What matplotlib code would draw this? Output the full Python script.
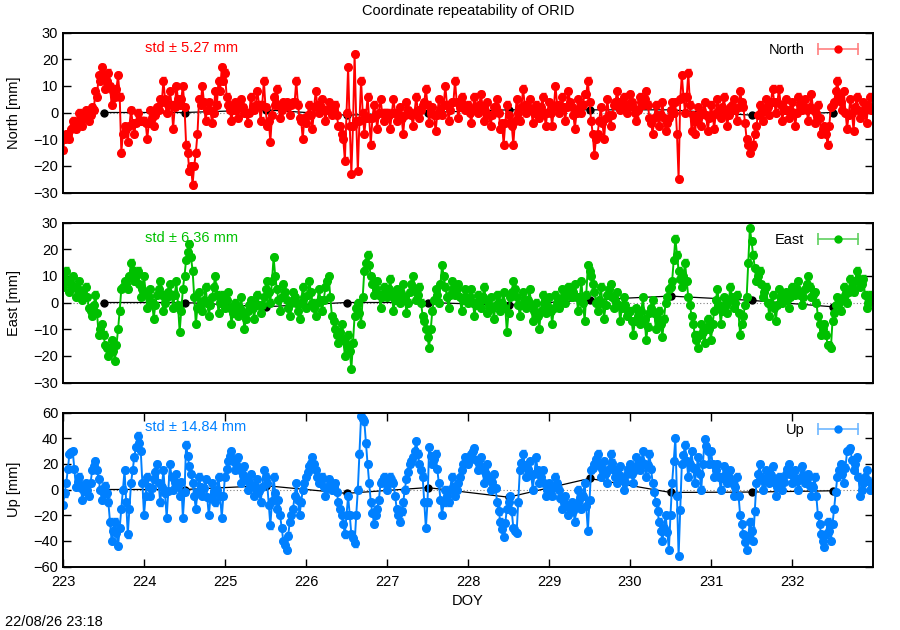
import numpy as np
import matplotlib
matplotlib.use("Agg")
import matplotlib.pyplot as plt
from matplotlib.lines import Line2D
from matplotlib.legend_handler import HandlerLine2D

plt.rcParams['font.family'] = ['Liberation Sans', 'DejaVu Sans']
plt.rcParams['font.size'] = 10.5

# band edge samples, 25 per day, DOY 223.00 .. 232.96
t_start = 223.0
t_step = 0.04

north = [
    -14, -8, -10, -3, -6, 0, -5, 1, -3, 2, 8, 14, 17, 9, 15, 3, 6, 14, -15, -5, -11, 1, -8, 0, -3,
    -3, -10, 1, -5, 2, 5, 12, 0, 8, -6, 10, 3, 10, -12, -22, -27, -15, 5, 10, -3, 4, -4, 8, 12, 17,
    15, 3, -3, 4, -2, 5, 0, -4, 6, 1, 8, -3, 12, -5, -11, 6, 9, -2, 4, 4, -1, 4, 12, -2, -10,
    -4, 3, -6, 8, 0, 5, -3, 4, -1, 3, -5, -8, -18, 17, -23, 22, -22, 12, -8, 6, -12, 3, -6, 5, -3,
    0, -6, 5, -3, 2, -8, 4, 0, -5, 6, -2, 3, 9, -4, 2, -7, 5, -1, 10, -3, 4, 12, -2, 6, 1,
    3, -4, 6, 0, 7, -3, 4, -5, 2, 5, -6, -12, 3, -4, -12, 5, -3, 9, 0, 5, -4, 3, -2, 6, -5,
    4, -5, 10, 0, 6, -3, 8, 2, -6, 5, 0, 7, 12, -3, -16, -8, 2, -10, 5, -5, 3, 8, 1, 6, 0,
    7, 2, -3, 6, 3, 8, -2, -8, 3, -5, 4, -7, -2, 4, 4, -25, 14, 0, 15, -7, -8, 2, -5, 4, -7,
    3, -6, 5, -2, 6, -5, 2, 5, -3, 8, 2, -10, -15, -12, -5, 3, -3, 5, -1, 9, 0, 9, -3, 5, -2,
    4, -5, 6, 1, 5, -3, 7, -4, 3, -8, -5, -12, 2, 4, 12, 4, 8, -6, 5, -7, 6, -2, 4, -4, 6,
]
# band centre samples, halfway between the edge samples
north_mid = [
    -10, -8, -6, -4, -3, -2, -2, -1, -1, 1, 6, 12, 14, 12, 10, 8, 9, 6, -8, -6, -5, -4, -4, -3, -3,
    -4, -4, -2, -1, 1, 4, 5, 3, 3, 2, 5, 5, 2, -15, -20, -20, -8, 3, 4, 1, 1, 0, 3, 8, 12,
    6, 1, 1, 1, 2, 2, 0, 0, 2, 3, 3, 3, 2, -3, -1, 3, 3, 1, 2, 3, 3, 4, 3, -3, -2,
    -1, -1, 2, 3, 2, 1, 1, 1, 1, -1, -5, -10, 0, -5, -5, -3, -3, 0, -2, -2, -2, -1, 0, 0, 0,
    -1, 0, 0, 0, -2, -1, 1, -1, 0, 1, 1, 4, 3, 0, -1, -1, 1, 3, 3, 1, 4, 4, 2, 3, 2,
    0, 1, 2, 3, 2, 0, -1, -1, 2, 0, -4, -4, -1, -5, -3, 0, 2, 3, 2, 1, 0, 0, 2, 0, 0,
    0, 2, 3, 2, 2, 2, 4, -1, 0, 2, 3, 7, 4, -8, -10, -3, -4, -2, -1, -1, 4, 4, 3, 3, 3,
    4, 0, 1, 4, 5, 3, -4, -2, -1, -1, -2, -4, 1, 0, -8, 5, 6, 6, 3, -1, -3, -1, 0, -1, -2,
    -1, 0, 1, 2, 0, -1, 3, 1, 2, 4, -4, -12, -13, -8, -1, 0, 1, 2, 4, 4, 4, 3, 1, 1, 1,
    0, 0, 3, 3, 1, 2, 1, 0, -2, -6, -8, -5, 3, 8, 6, 1, 0, -1, 0, 2, 1, 0, 1, 3, 1,
]

east = [
    6, 12, 4, 10, 2, 8, 1, 6, -2, -5, 3, -12, -8, -16, -20, -14, -22, -10, 5, 8, 5, 15, 8, 12, 2,
    10, -2, 5, -6, 3, 8, -3, 2, 7, -2, 8, -11, 5, 16, 22, 12, -8, 4, -3, 6, -5, 2, 10, -4, 3,
    -2, 4, -8, 0, -5, 2, -10, -3, 1, -6, 3, -4, 2, 8, 0, 17, 5, -3, 7, 1, -5, 4, 0, -6, 6,
    -2, 8, 0, -5, 5, -3, 6, 10, -5, -10, -15, -8, -20, -12, -25, -5, 0, -8, 12, 18, 10, 3, 8, -2, 6,
    2, 9, -3, 5, 0, 7, -4, 4, 10, 1, 6, -5, -10, -17, -3, 5, 0, 14, 6, -2, 8, 3, 7, -3, 5,
    0, 5, -5, 3, -2, 6, -4, 2, -6, 3, -3, 4, -11, 2, 8, 2, -5, 4, -2, 5, -7, 0, -10, 3, -4,
    2, -8, 3, -2, 5, 0, 6, 2, 7, -3, 8, -7, 14, 10, 4, -3, 6, -6, 3, 7, -2, 4, -7, 2, -5,
    -3, -12, -2, -8, 2, -14, -4, 1, -10, -3, -13, 0, 5, 8, 24, 12, 6, 15, 2, -5, -12, -17, -8, -15, -6,
    -14, -3, 5, -8, 2, -4, 6, -2, 3, -12, -5, 2, 28, 18, 8, 12, 2, 6, -5, 3, -7, 5, 0, 4, -2,
    6, 3, 8, -1, 5, 10, 2, 4, -5, -12, -8, -16, -17, -4, 2, -3, 6, 0, 9, 4, 12, 6, 9, -2, 3,
]
east_mid = [
    9, 8, 7, 6, 5, 4, 3, 2, -3, -1, -4, -10, -12, -17, -17, -18, -16, -3, 6, 7, 10, 12, 10, 7, 5,
    4, 2, 0, -1, 5, 3, 0, 4, 3, 3, -1, -3, 10, 19, 17, 2, -2, 0, 1, 0, -1, 6, 3, 0, 1,
    1, -2, -4, -2, -2, -4, -6, -1, -2, -1, -1, -1, 5, 4, 8, 10, 1, 2, 4, -2, 0, 2, -3, 0, 2,
    3, 4, -2, 0, 1, 1, 8, 2, -7, -12, -11, -14, -16, -18, -15, -2, -4, 2, 15, 14, 7, 5, 3, 2, 4,
    5, 3, 1, 2, 3, 2, 0, 7, 5, 3, 0, -7, -13, -10, 1, 3, 7, 10, 2, 3, 5, 5, 2, 1, 2,
    2, 0, -1, 0, 2, 1, -1, -2, -1, 0, 0, -2, -4, 4, 5, -1, -1, 1, 1, -1, -3, -5, -3, 0, -1,
    -3, -2, 0, 1, 2, 3, 4, 4, 2, 2, 0, 3, 12, 7, 0, 1, 0, -1, 5, 2, 1, -1, -2, -1, -4,
    -7, -7, -5, -3, -6, -9, -2, -4, -6, -8, -6, 2, 6, 16, 18, 9, 10, 8, -1, -8, -14, -12, -11, -10, -10,
    -8, 1, -1, -3, -1, 1, 2, 0, -4, -8, -1, 15, 23, 13, 10, 7, 4, 0, -1, -2, -1, 2, 2, 1, 2,
    4, 5, 3, 2, 7, 6, 3, 0, -8, -10, -12, -16, -7, -1, 0, 1, 3, 4, 6, 8, 9, 7, 3, 0, 2,
]

up = [
    -12, 5, 28, 30, 2, 10, -8, 5, -5, 15, 22, 8, -8, 3, -10, -40, -25, -44, -15, 15, -35, 5, 25, 42, 30,
    -20, 10, -5, 8, 20, -10, 15, -22, 20, 0, 12, -5, -22, 35, 18, 5, -15, 10, -5, 8, -20, 5, -10, 10, -22,
    10, 22, 30, 15, 25, 5, 18, 0, 12, -5, 8, -10, 15, 5, -28, 10, -15, -20, -40, -47, -25, -15, 5, -20, 0,
    10, 18, 25, 15, 5, 10, -5, 8, 0, 5, -10, -20, -35, -5, -35, -42, 0, 57, 53, 20, -10, -27, -15, 5, 10,
    0, 10, 5, -15, -25, -10, 8, 20, 25, 38, 20, 10, -30, 33, 20, 28, 5, -20, 0, -10, 10, -5, 5, 15, 25,
    20, 28, 32, 15, 25, 5, 20, 0, 12, -10, -25, -37, -15, -5, -30, -34, 15, 28, 10, 22, 0, 25, 5, 15, -5,
    5, -5, 10, 0, -15, -5, -20, -10, -25, 0, -15, 5, -32, 15, 20, 28, 10, 22, 5, 28, 15, 5, 18, 0, 12,
    20, 5, 25, 15, 30, 10, 28, 5, -10, -25, -40, -20, -47, 5, 40, -52, 20, 35, 10, 30, 5, 25, 0, 39, 30,
    30, 10, 20, 0, 18, 5, 15, -5, 10, -20, -35, -47, -25, -40, 5, 20, 0, 15, 5, 18, -5, 10, 0, 12, 20,
    5, 15, 0, 18, 5, 12, -5, 10, -20, -35, -45, -25, -40, -15, 10, 20, 5, 30, 32, 15, 25, -5, 5, 15, 0,
]
up_mid = [
    -3, 16, 29, 16, 6, 1, -1, 0, 5, 18, 15, 0, -3, -3, -25, -32, -34, -30, 0, -10, -15, 15, 33, 36, 5,
    -5, 2, 1, 14, 5, 2, -3, -1, 10, 6, 3, 6, -2, 26, 12, -5, -2, 2, 1, -6, -7, -2, 0, -5, -5,
    16, 26, 22, 20, 15, 11, 9, 6, 3, 1, -1, 2, 10, -12, -9, -3, -8, -30, -43, -36, -20, -5, -8, -10, 5,
    14, 21, 20, 10, 7, 2, 1, 4, 2, -2, -15, -27, -20, -20, -38, -20, 28, 55, 36, 5, -18, -20, -8, 7, 5,
    5, 7, -5, -20, -17, 0, 14, 22, 30, 28, 15, -10, -10, 26, 24, 16, -8, -10, -5, 0, 2, 0, 10, 20, 22,
    24, 30, 23, 20, 15, 12, 10, 6, 1, -17, -31, -26, -10, -17, -32, -10, 21, 19, 16, 11, 12, 15, 10, 5, 0,
    0, 2, 5, -7, -10, -12, -15, -17, -12, -7, -5, -13, -8, 17, 24, 19, 16, 13, 16, 21, 10, 11, 9, 6, 16,
    12, 15, 20, 22, 20, 19, 16, -2, -17, -32, -30, -33, -20, 22, -5, -16, 27, 22, 20, 17, 15, 12, 20, 34, 20,
    20, 15, 10, 9, 11, 10, 5, 2, -5, -27, -41, -36, -32, -17, 12, 10, 7, 10, 11, 6, 2, 5, 6, 16, 12,
    10, 7, 9, 11, 8, 3, 2, -5, -27, -40, -35, -32, -27, -2, 15, 12, 17, 31, 23, 20, 10, 0, 10, 7, 5,
]

# daily solutions (black)
daily_t = [223.5, 224.5, 225.5, 226.5, 227.5, 228.5, 229.5, 230.5, 231.5, 232.5]
daily_north = [0, 0, 1, -1, 0, 1, 1, 1, -1, 0]
daily_east = [0, 0, -1.6, 0, 0, -1, 1, 2.4, 0.8, -1.6]
daily_up = [0, 0, 3, -3, 1.5, -6, 8.6, -2.3, -2, -1]

sigmas = [1.2, 1.2, 2.5]
stds = ['5.27', '6.36', '14.84']
names = ['North', 'East', 'Up']
colors = ['#ff0000', '#00c000', '#0080ff']
legend_colors = ['#ff8080', '#60d060', '#70b8ff']
ylims = [(-30, 30), (-30, 30), (-60, 60)]
ysteps = [10, 10, 20]

t_edge = t_start + t_step * np.arange(len(north))
t = np.column_stack([t_edge, t_edge + t_step / 2]).ravel()

series = [np.column_stack([north, north_mid]).ravel(),
          np.column_stack([east, east_mid]).ravel(),
          np.column_stack([up, up_mid]).ravel()]
dailies = [daily_north, daily_east, daily_up]

fig = plt.figure(figsize=(9, 6.3), dpi=100)
rects = [
    [63 / 900, 1 - 192.5 / 630, 810 / 900, 160 / 630],
    [63 / 900, 1 - 382.5 / 630, 810 / 900, 160 / 630],
    [63 / 900, 1 - 566.5 / 630, 810 / 900, 154 / 630],
]

for i in range(3):
    ax = fig.add_axes(rects[i])
    c = colors[i]
    ax.axhline(0, color='#808080', lw=0.8, ls=(0, (1, 2)), zorder=0)
    # daily solutions sit underneath the sub-daily points
    ax.plot(daily_t, dailies[i], color='black', lw=0.9, marker='o', ms=5, zorder=1)
    ax.errorbar(t, series[i], yerr=sigmas[i], color=c, lw=1.4, marker='o', ms=5.5,
                elinewidth=0.8, capsize=1.8, zorder=2)

    ax.set_xlim(223, 233)
    ax.set_ylim(*ylims[i])
    lo, hi = ylims[i]
    ax.set_yticks(np.arange(lo, hi + 1, ysteps[i]))
    ax.set_ylabel(names[i] + ' [mm]')
    ax.yaxis.set_label_coords(-0.052, 0.5)
    for s in ax.spines.values():
        s.set_linewidth(1.4)
    ax.tick_params(axis='y', direction='in', right=True, length=6, width=1)
    if i == 2:
        ax.set_xticks(np.arange(223, 233, 1))
        ax.tick_params(axis='x', direction='in', top=True, length=6, width=1, pad=6)
        ax.set_xlabel('DOY')
    else:
        ax.set_xticks([])

    ax.text(0.101, 0.905, 'std \u00b1 ' + stds[i] + ' mm', color=c,
            transform=ax.transAxes, va='center', ha='left')

    cap_line = Line2D([], [], color=legend_colors[i], lw=1.2, marker='|', ms=8, mew=1.2)
    dot = Line2D([], [], color=c, marker='o', ms=5, ls='none')
    ax.legend([(cap_line, dot)], [names[i]], loc='upper right', frameon=False,
              handlelength=3.4, markerfirst=False, borderaxespad=0.3, handletextpad=0.6,
              handler_map={cap_line: HandlerLine2D(numpoints=2),
                           dot: HandlerLine2D(numpoints=1)})

fig.text(468 / 900, 1 - 11 / 630, 'Coordinate repeatability of ORID', ha='center', va='center')
fig.text(5 / 900, 1 - 622 / 630, '22/08/26 23:18', ha='left', va='center')

fig.savefig('out.png', dpi=100)
